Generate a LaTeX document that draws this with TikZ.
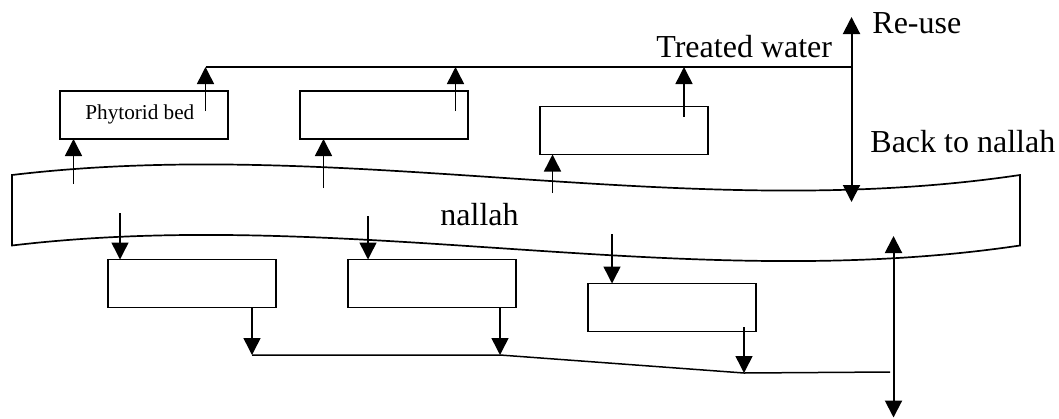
\documentclass[tikz,border=0pt]{standalone}
\usepackage{fontspec}
\setmainfont{Liberation Serif}
\usetikzlibrary{arrows.meta}
\begin{document}
\begin{tikzpicture}[x=0.5pt,y=-0.5pt,
  bed/.style={draw,line width=0.95pt,minimum width=84pt,minimum height=24pt,inner sep=0pt,outer sep=0pt},
  flow/.style={line width=0.75pt},
  tip/.tip={Triangle[length=8.5pt,width=8.5pt]},
  arr/.style={flow,-tip},
  darr/.style={line width=1pt,tip-tip},
  lab/.style={anchor=base west,inner sep=0pt,font=\fontsize{16}{19}\selectfont},
  small/.style={anchor=base west,inner sep=0pt,font=\fontsize{10.6}{12}\selectfont}]
\useasboundingbox (0,0) rectangle (1059,418);
% nallah channel
\draw[line width=0.85pt] (12,175) .. controls (348,135) and (684,225) .. (1020,175)
  -- (1020,245.5) .. controls (684,295.5) and (348,205.5) .. (12,245.5) -- cycle;
\node[lab] (nl) at (440,225) {nallah};
% top phytorid beds
\node[bed] (b1) at (144,115) {};
\node[bed] (b2) at (384,115) {};
\node[bed] (b3) at (624,130.5) {};
\node[small] (pb) at (85,119) {Phytorid bed};
% bottom beds
\node[bed] (b4) at (192,283.5) {};
\node[bed] (b5) at (432,283.5) {};
\node[bed] (b6) at (672,307.5) {};
% coordinates
\coordinate (i1) at (73.5,184);
\coordinate (i2) at (323.5,188);
\coordinate (i3) at (552.5,193);
\coordinate (o1) at (205.5,111);
\coordinate (o2) at (455.5,111);
\coordinate (o3) at (684,116.5);
\coordinate (t1) at (205.5,67);
\coordinate (t2) at (455.5,67);
\coordinate (t3) at (684,67);
\coordinate (j) at (851.5,67);
\coordinate (ru) at (851.5,17);
\coordinate (bn) at (851.5,202);
\coordinate (d1) at (120,213);
\coordinate (d2) at (368,216);
\coordinate (d3) at (612,234);
\coordinate (p4) at (252,308);
\coordinate (p5) at (500,308);
\coordinate (p6) at (744,327);
\coordinate (c4) at (252,355);
\coordinate (c5) at (500,355);
\coordinate (c6) at (744,373);
\coordinate (ce) at (890,372);
\coordinate (u2) at (893.5,236);
\coordinate (v2) at (893.5,417.5);
% inflows to top beds
\draw[arr] (i1) -- (i1 |- b1.south);
\draw[arr] (i2) -- (i2 |- b2.south);
\draw[arr] (i3) -- (i3 |- b3.south);
% outflows to treated water line
\draw[arr] (o1) -- (t1);
\draw[arr] (o2) -- (t2);
\draw[arr] (o3) -- (t3);
\draw[flow] (t1) -- (j);
\draw[darr] (ru) -- (bn);
% inflows to bottom beds
\draw[arr] (d1) -- (d1 |- b4.north);
\draw[arr] (d2) -- (d2 |- b5.north);
\draw[arr] (d3) -- (d3 |- b6.north);
% outflows from bottom beds
\draw[arr] (p4) -- (c4);
\draw[arr] (p5) -- (c5);
\draw[arr] (p6) -- (c6);
\draw[flow] (c4) -- (c5) -- (c6) -- (ce);
\draw[darr] (u2) -- (v2);
% labels
\node[lab] (tw) at (656,57) {Treated water};
\node[lab] (re) at (872,33) {Re-use};
\node[lab] (bk) at (870,152) {Back to nallah};
\end{tikzpicture}
\end{document}
